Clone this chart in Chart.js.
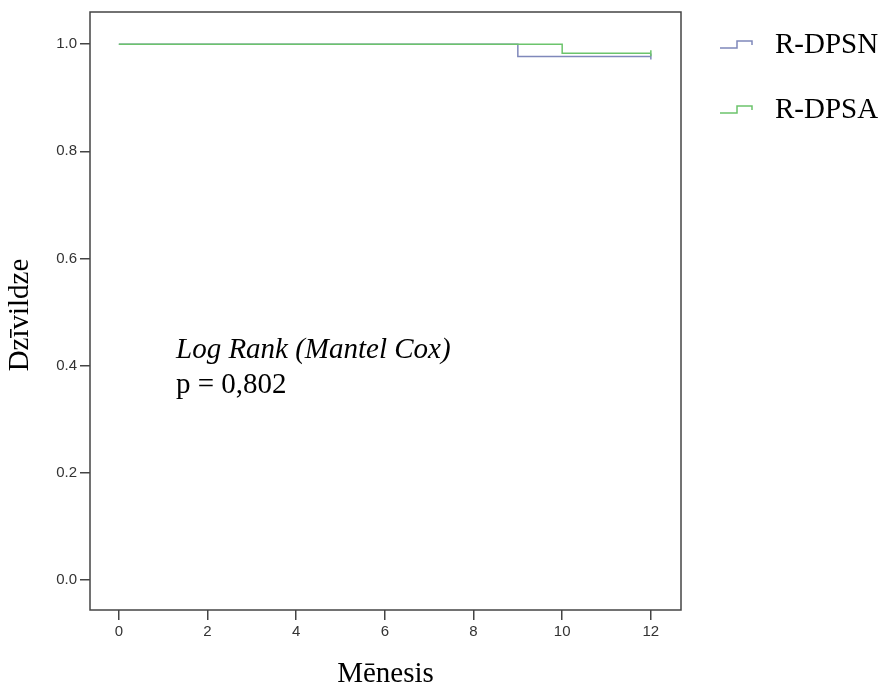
<!DOCTYPE html>
<html>
<head>
<meta charset="utf-8">
<title>Dzīvildze</title>
<script src="https://cdn.jsdelivr.net/npm/chart.js@4/dist/chart.umd.min.js"></script>
<style>
  html, body { margin: 0; padding: 0; background: #fff; }
  canvas { display: block; }
</style>
</head>
<body>
<canvas id="kmChart" width="883" height="686"></canvas>
<script>
// Kaplan-Meier steps, months vs survival
const seriesNames = ['R-DPSN', 'R-DPSA'];
const seriesColors = ['#7f88ba', '#6cc46c'];
const dpsnMonths = [0, 9, 12];
const dpsnSurvival = [1.0, 0.977, 0.977];
const dpsaMonths = [0, 10, 12];
const dpsaSurvival = [1.0, 0.983, 0.983];

const xTicks = [0, 2, 4, 6, 8, 10, 12];
const yTicks = [0.0, 0.2, 0.4, 0.6, 0.8, 1.0];

const xTitle = 'Mēnesis';
const yTitle = 'Dzīvildze';
const testName = 'Log Rank (Mantel Cox)';
const pValueText = 'p = 0,802';

const serif = '"Liberation Serif", "Times New Roman", serif';
const axisColor = '#444';

function toPoints(xs, ys) {
  return xs.map((x, i) => ({ x: x, y: ys[i] }));
}

// censor mark only on the last point of a curve
function censorRadius(ctx) {
  return ctx.dataIndex === ctx.dataset.data.length - 1 ? 3 : 0;
}

const extras = {
  id: 'extras',
  afterDraw(chart) {
    const ctx = chart.ctx;
    const a = chart.chartArea;
    ctx.save();

    // plot frame
    ctx.strokeStyle = axisColor;
    ctx.lineWidth = 1.5;
    ctx.strokeRect(a.left, a.top, a.right - a.left, a.bottom - a.top);

    ctx.fillStyle = '#000';
    ctx.font = '29px ' + serif;
    ctx.textBaseline = 'middle';

    // axis titles
    ctx.textAlign = 'center';
    ctx.fillText(xTitle, (a.left + a.right) / 2, 674);
    ctx.save();
    ctx.translate(20, (a.top + a.bottom) / 2 + 4);
    ctx.rotate(-Math.PI / 2);
    ctx.fillText(yTitle, 0, 0);
    ctx.restore();

    // test result
    ctx.textAlign = 'left';
    ctx.font = 'italic 29px ' + serif;
    ctx.fillText(testName, 176, 350);
    ctx.font = '29px ' + serif;
    ctx.fillText(pValueText, 176, 385);

    // legend with step icons
    const rowsY = [45, 110];
    seriesNames.forEach((name, i) => {
      const y = rowsY[i];
      ctx.strokeStyle = seriesColors[i];
      ctx.lineWidth = 1.5;
      ctx.beginPath();
      ctx.moveTo(720, y + 3);
      ctx.lineTo(737, y + 3);
      ctx.lineTo(737, y - 4);
      ctx.lineTo(752, y - 4);
      ctx.lineTo(752, y);
      ctx.stroke();
      ctx.fillStyle = '#000';
      ctx.fillText(name, 775, y);
    });

    ctx.restore();
  }
};

const ctx = document.getElementById('kmChart').getContext('2d');
const kmChart = new Chart(ctx, {
  type: 'line',
  data: {
    datasets: [{
      label: seriesNames[0],
      data: toPoints(dpsnMonths, dpsnSurvival),
      borderColor: seriesColors[0],
      borderWidth: 1.5,
      stepped: 'before',
      fill: false,
      order: 1,
      pointStyle: 'line',
      rotation: 90,
      pointRadius: censorRadius,
      pointBorderColor: seriesColors[0],
      pointBorderWidth: 1.5
    }, {
      label: seriesNames[1],
      data: toPoints(dpsaMonths, dpsaSurvival),
      borderColor: seriesColors[1],
      borderWidth: 1.5,
      stepped: 'before',
      fill: false,
      order: 0,
      pointStyle: 'line',
      rotation: 90,
      pointRadius: censorRadius,
      pointBorderColor: seriesColors[1],
      pointBorderWidth: 1.5
    }]
  },
  options: {
    responsive: false,
    animation: false,
    layout: { padding: { left: 0, top: 12, right: 202, bottom: 0 } },
    plugins: {
      legend: { display: false },
      tooltip: { enabled: false }
    },
    scales: {
      x: {
        type: 'linear',
        min: -0.65,
        max: 12.68,
        afterBuildTicks: (s) => { s.ticks = xTicks.map(v => ({ value: v })); },
        afterFit: (s) => { s.height = 76; },
        border: { display: false },
        grid: { drawOnChartArea: false, tickLength: 10, color: axisColor, lineWidth: 1.5 },
        ticks: {
          padding: 3,
          color: '#333',
          font: { family: '"Liberation Sans", Arial, sans-serif', size: 15 },
          maxRotation: 0
        }
      },
      y: {
        type: 'linear',
        min: -0.056,
        max: 1.06,
        afterBuildTicks: (s) => { s.ticks = yTicks.map(v => ({ value: v })); },
        afterFit: (s) => { s.width = 90; },
        border: { display: false },
        grid: { drawOnChartArea: false, tickLength: 10, color: axisColor, lineWidth: 1.5 },
        ticks: {
          padding: 3,
          color: '#333',
          font: { family: '"Liberation Sans", Arial, sans-serif', size: 15 },
          callback: (v) => Number(v).toFixed(1)
        }
      }
    }
  },
  plugins: [extras]
});
</script>
</body>
</html>
